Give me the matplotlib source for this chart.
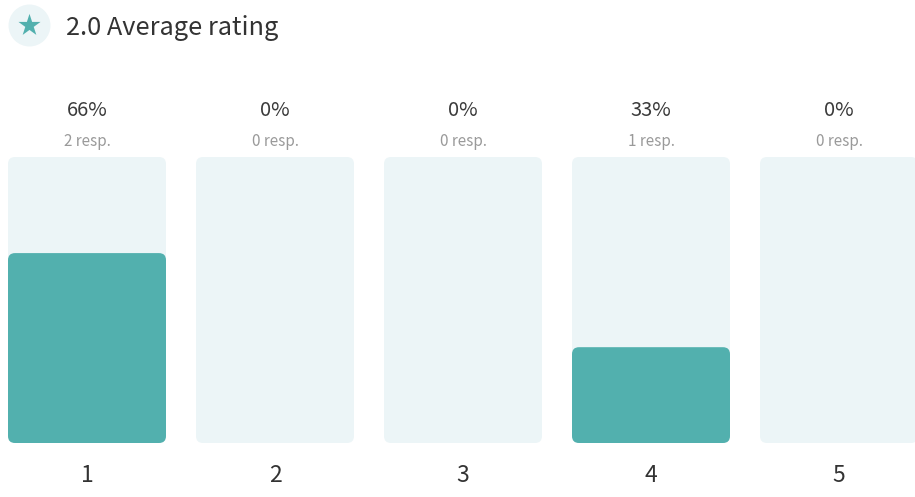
import matplotlib
matplotlib.use("Agg")
import matplotlib.pyplot as plt
from matplotlib.patches import FancyBboxPatch
from matplotlib.transforms import blended_transform_factory

plt.rcParams['font.family'] = ['Noto Sans CJK JP', 'DejaVu Sans']

ratings = ["1", "2", "3", "4", "5"]
percent_labels = ["66%", "0%", "0%", "33%", "0%"]
resp_labels = ["2 resp.", "0 resp.", "0 resp.", "1 resp.", "0 resp."]
fill_values = [66.4, 0, 0, 33.5, 0]
title = "2.0 Average rating"

W, H = 915, 497
TEAL = "#52b0ae"
PALE = "#ecf5f7"

fig = plt.figure(figsize=(W / 100, H / 100), dpi=100)

# bars sit between y=157 and y=443 px, one slot is 188 px wide
ax = fig.add_axes([0, (H - 443) / H, 1, (443 - 157) / H])
ax.set_xlim(-87 / 188, (W - 87) / 188)
ax.set_ylim(0, 100)
ax.axis("off")

bar_w = 158 / 188
aspect = (100 / 286) / (1 / 188)
rounding = 7 / 188
label_tr = blended_transform_factory(ax.transData, fig.transFigure)


def rounded_bar(x, height, color, zorder):
    ax.add_patch(FancyBboxPatch((x - bar_w / 2, 0), bar_w, height,
                                boxstyle=f"round,pad=0,rounding_size={rounding}",
                                mutation_aspect=aspect, fc=color, ec="none",
                                zorder=zorder, clip_on=False))


for i, rating in enumerate(ratings):
    rounded_bar(i, 100, PALE, 1)
    if fill_values[i] > 0:
        rounded_bar(i, fill_values[i], TEAL, 2)
    ax.text(i, (H - 111) / H, percent_labels[i], transform=label_tr,
            ha="center", va="center", fontsize=14.5, color="#3a3a3a")
    ax.text(i, (H - 141) / H, resp_labels[i], transform=label_tr,
            ha="center", va="center", fontsize=11, color="#9a9a9a")
    ax.text(i, (H - 476) / H, rating, transform=label_tr,
            ha="center", va="center", fontsize=16.5, color="#333333")

# header icon and title
fig.text(66 / W, (H - 28) / H, title, ha="left", va="center", fontsize=18.25, color="#333333")
head = fig.add_axes([0, 0, 1, 1], facecolor="none")
head.set_xlim(0, W)
head.set_ylim(H, 0)
head.axis("off")
head.scatter([29], [25], s=913, color=PALE, linewidths=0)
head.scatter([29], [25], s=280, marker="*", color=TEAL, linewidths=0)

fig.savefig("out.png", dpi=100)
